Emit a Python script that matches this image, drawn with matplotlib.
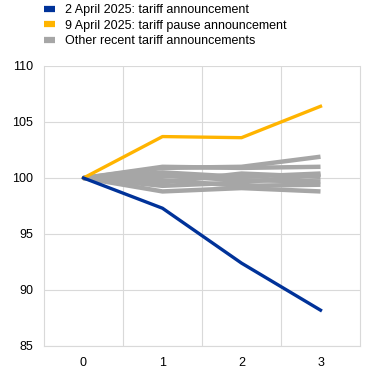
import matplotlib

matplotlib.use("Agg")

import matplotlib.pyplot as plt
from matplotlib.lines import Line2D

plt.rcParams["font.family"] = ["Liberation Sans", "DejaVu Sans"]

days = [0, 1, 2, 3]
april_2 = [100.0, 97.3, 92.4, 88.2]
april_9 = [100.0, 103.7, 103.6, 106.4]
others = [
    [100.0, 100.9, 101.0, 101.9],
    [100.0, 101.0, 100.9, 101.0],
    [100.0, 100.5, 100.1, 100.4],
    [100.0, 99.6, 100.4, 100.1],
    [100.0, 99.8, 99.3, 99.4],
    [100.0, 98.8, 99.1, 98.8],
    [100.0, 99.3, 99.6, 100.3],
    [100.0, 100.2, 99.8, 99.7],
]
labels = [
    "2 April 2025: tariff announcement",
    "9 April 2025: tariff pause announcement",
    "Other recent tariff announcements",
]

BLUE = "#003299"
YELLOW = "#FFB400"
GREY = "#A6A6A6"
GRID = "#D9D9D9"

fig = plt.figure(figsize=(3.72, 3.74), dpi=100)
ax = fig.add_axes([44 / 372, 28 / 374, 316 / 372, 280 / 374])

for series in others:
    ax.plot(days, series, color=GREY, lw=3.2, solid_capstyle="butt", zorder=2)
ax.plot(days, april_9, color=YELLOW, lw=2.4, zorder=3)
ax.plot(days, april_2, color=BLUE, lw=2.4, zorder=4)

ax.set_xlim(-0.5, 3.5)
ax.set_ylim(85, 110)
ax.set_yticks(range(85, 111, 5))
ax.set_xticks(days)
ax.set_xticks([0.5, 1.5, 2.5], minor=True)
ax.grid(axis="y", color=GRID, lw=0.8)
ax.grid(axis="x", which="minor", color=GRID, lw=0.8)
ax.tick_params(which="both", length=0, labelsize=9, colors="#000000", pad=8)

ax.spines["top"].set_visible(False)
for side in ("left", "right", "bottom"):
    ax.spines[side].set_color(GRID)
    ax.spines[side].set_linewidth(0.8)
ax.set_axisbelow(True)

handles = [
    Line2D([], [], color=BLUE, lw=4.5, solid_capstyle="butt"),
    Line2D([], [], color=YELLOW, lw=4.5, solid_capstyle="butt"),
    Line2D([], [], color=GREY, lw=4.5, solid_capstyle="butt"),
]
fig.legend(
    handles,
    labels,
    loc="upper left",
    bbox_to_anchor=(44 / 372, 1 - 4 / 374),
    frameon=False,
    fontsize=9,
    handlelength=0.9,
    handletextpad=0.8,
    labelspacing=0.3,
    borderaxespad=0.0,
    borderpad=0.0,
)

fig.savefig("out.png", dpi=100)
